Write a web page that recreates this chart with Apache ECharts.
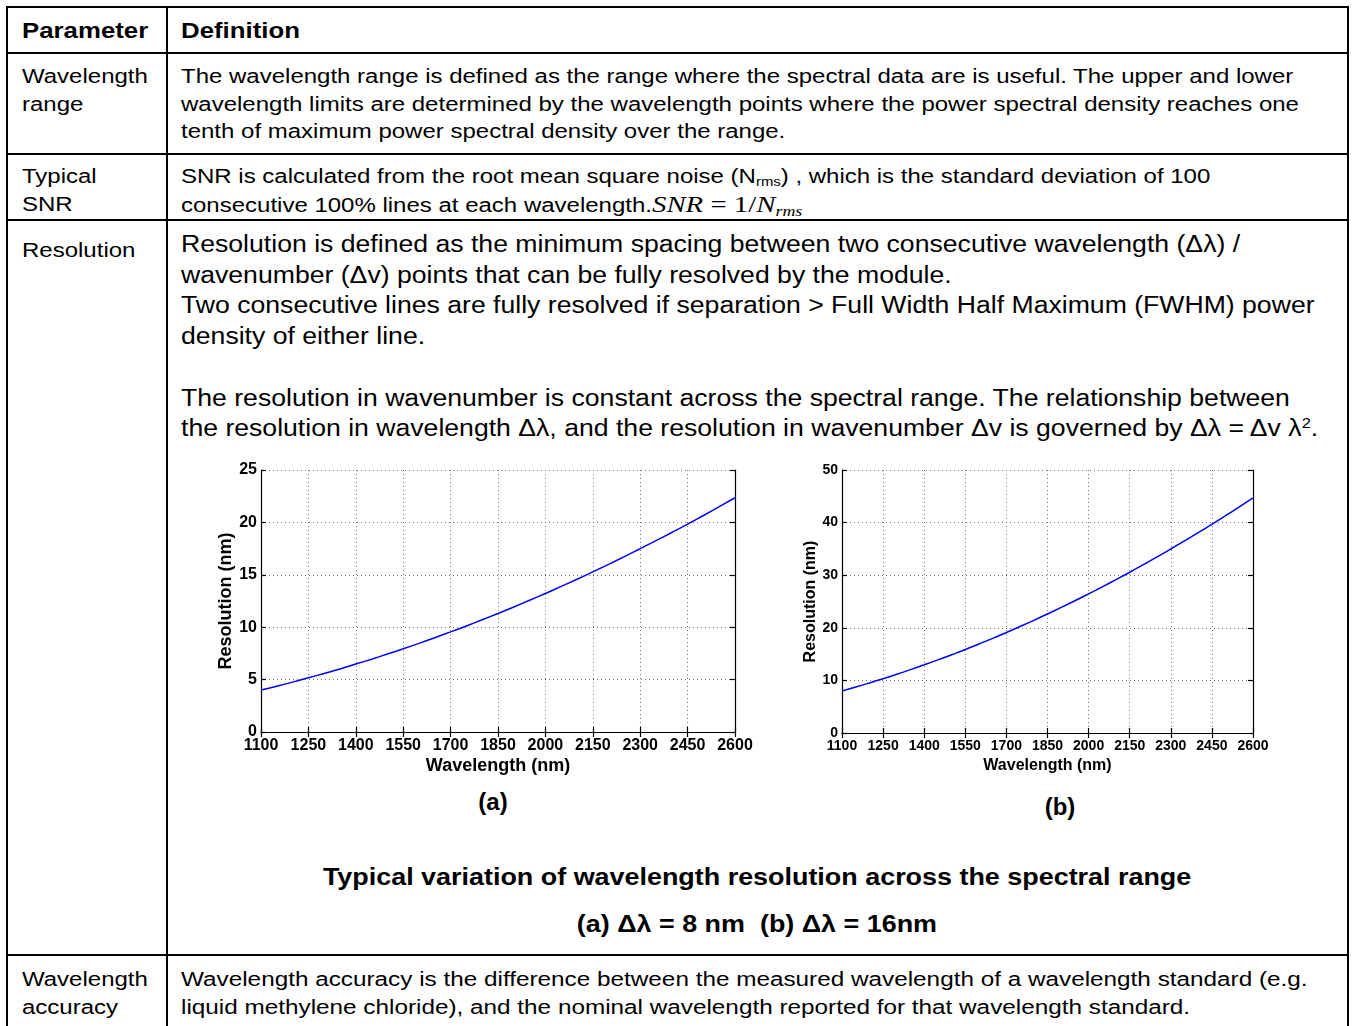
<!DOCTYPE html>
<html>
<head>
<meta charset="utf-8">
<script src="https://cdn.jsdelivr.net/npm/echarts@6/dist/echarts.min.js"></script>
<style>
  html, body { margin: 0; padding: 0; background: #ffffff; }
  body { width: 1352px; height: 1026px; position: relative; overflow: hidden;
         font-family: "Liberation Sans", Arial, sans-serif; color: #000; }
  .ln { position: absolute; background: #000; }
  .t { position: absolute; white-space: nowrap; transform-origin: 0 0; transform: scaleX(1.2); }
  .body20 { font-size: 20px; line-height: 27.5px; }
  .body23 { font-size: 23px; line-height: 30.7px; transform: scaleX(1.157); }
  .acc { transform: scaleX(1.215); }
  .hd { font-size: 21.5px; font-weight: bold; line-height: 28px; }
  .cap { position: absolute; left: 167px; width: 1180px; text-align: center; font-weight: bold; font-size: 23px; white-space: nowrap; }
  .cap span { display: inline-block; transform: scaleX(1.17); }
  sub { font-size: 0.62em; vertical-align: -0.25em; line-height: 0; }
  sup { font-size: 0.62em; vertical-align: 0.55em; line-height: 0; }
  .m { font-family: "Liberation Serif", "DejaVu Serif", serif; font-size: 24px; }
  .chart { position: absolute; }
  .lab { position: absolute; font-weight: bold; font-size: 24px; transform: translateX(-50%); }
</style>
</head>
<body>
<!-- table lines -->
<div class="ln" style="left:6px;top:6px;width:1343px;height:2px"></div>
<div class="ln" style="left:6px;top:52px;width:1343px;height:2px"></div>
<div class="ln" style="left:6px;top:153px;width:1343px;height:2px"></div>
<div class="ln" style="left:6px;top:219px;width:1343px;height:2px"></div>
<div class="ln" style="left:6px;top:954px;width:1343px;height:2px"></div>
<div class="ln" style="left:6px;top:6px;width:2px;height:1020px"></div>
<div class="ln" style="left:166px;top:6px;width:2px;height:1020px"></div>
<div class="ln" style="left:1347px;top:6px;width:2px;height:1020px"></div>

<!-- header -->
<div class="t hd" style="left:22px;top:17px">Parameter</div>
<div class="t hd" style="left:181px;top:17px">Definition</div>

<!-- column 1 -->
<div class="t body20" style="left:22px;top:63px">Wavelength<br>range</div>
<div class="t body20" style="left:22px;top:163px">Typical<br>SNR</div>
<div class="t body20" style="left:22px;top:237px">Resolution</div>
<div class="t body20" style="left:22px;top:966px">Wavelength<br>accuracy</div>

<!-- column 2 -->
<div class="t body20" style="left:181px;top:63px">The wavelength range is defined as the range where the spectral data are is useful. The upper and lower<br>wavelength limits are determined by the wavelength points where the power spectral density reaches one<br>tenth of maximum power spectral density over the range.</div>
<div class="t body20" style="left:181px;top:163px">SNR is calculated from the root mean square noise (N<sub>rms</sub>) , which is the standard deviation of 100<br>consecutive 100% lines at each wavelength.<span class="m"><i>SNR</i> = 1/<i>N<sub>rms</sub></i></span></div>
<div class="t body23" style="left:181px;top:229px">Resolution is defined as the minimum spacing between two consecutive wavelength (Δλ) /<br>wavenumber (Δv) points that can be fully resolved by the module.<br>Two consecutive lines are fully resolved if separation &gt; Full Width Half Maximum (FWHM) power<br>density of either line.<br>&nbsp;<br>The resolution in wavenumber is constant across the spectral range. The relationship between<br>the resolution in wavelength Δλ, and the resolution in wavenumber Δv is governed by Δλ = Δv λ<sup>2</sup>.</div>
<div class="t body20 acc" style="left:181px;top:966px">Wavelength accuracy is the difference between the measured wavelength of a wavelength standard (e.g.<br>liquid methylene chloride), and the nominal wavelength reported for that wavelength standard.</div>

<div id="chartA" class="chart" style="left:190px;top:450px;width:580px;height:330px"></div>
<div id="chartB" class="chart" style="left:780px;top:450px;width:500px;height:330px"></div>

<div class="lab" style="left:493px;top:788px">(a)</div>
<div class="lab" style="left:1060px;top:793px">(b)</div>

<div class="cap" style="top:864px"><span>Typical variation of wavelength resolution across the spectral range</span></div>
<div class="cap" style="top:911px"><span>(a) Δλ = 8 nm&nbsp; (b) Δλ = 16nm</span></div>

<script>
  // wavelength points (nm)
  const wavelength = [1100, 1150, 1200, 1250, 1300, 1350, 1400, 1450, 1500, 1550, 1600,
    1650, 1700, 1750, 1800, 1850, 1900, 1950, 2000, 2050, 2100,
    2150, 2200, 2250, 2300, 2350, 2400, 2450, 2500, 2550, 2600];
  // (a) resolution for 8 nm module
  const resA = [4.00, 4.37, 4.76, 5.17, 5.59, 6.02, 6.48, 6.95, 7.44, 7.94, 8.46,
    9.00, 9.55, 10.12, 10.71, 11.31, 11.93, 12.57, 13.22, 13.89, 14.58,
    15.28, 16.00, 16.74, 17.49, 18.26, 19.04, 19.84, 20.66, 21.50, 22.35];
  // (b) resolution for 16 nm module
  const resB = [8.00, 8.74, 9.52, 10.33, 11.17, 12.05, 12.96, 13.90, 14.88, 15.88, 16.93,
    18.00, 19.11, 20.25, 21.42, 22.63, 23.87, 25.14, 26.45, 27.79, 29.16,
    30.56, 32.00, 33.47, 34.98, 36.52, 38.08, 39.68, 41.32, 42.99, 44.69];

  const font = '"Liberation Sans", Arial, sans-serif';

  function makeChart(id, grid, yMax, yStep, ys, lblSize, nameSize, nameGapY, nameGapX) {
    const chart = echarts.init(document.getElementById(id));
    const axisLine = { show: true, lineStyle: { color: '#000', width: 1.2 } };
    const tick = { show: true, inside: true, length: 5, lineStyle: { color: '#000', width: 1.2 } };
    const split = { show: true, lineStyle: { color: '#777', type: [1, 3], width: 1 } };
    const plain = v => String(v);
    chart.setOption({
      animation: false,
      grid: grid,
      xAxis: [{
        type: 'value', min: 1100, max: 2600, interval: 150,
        axisLine: axisLine, axisTick: tick, splitLine: split,
        axisLabel: { color: '#000', fontWeight: 'bold', fontSize: lblSize, fontFamily: font, margin: 6, formatter: plain },
        name: 'Wavelength (nm)', nameLocation: 'middle', nameGap: nameGapX, nameMoveOverlap: false,
        nameTextStyle: { color: '#000', fontWeight: 'bold', fontSize: nameSize, fontFamily: font }
      }, {
        type: 'value', min: 1100, max: 2600, interval: 150, position: 'top',
        axisLine: axisLine, axisTick: tick, axisLabel: { show: false }, splitLine: { show: false }
      }],
      yAxis: [{
        type: 'value', min: 0, max: yMax, interval: yStep,
        axisLine: axisLine, axisTick: tick, splitLine: split,
        axisLabel: { color: '#000', fontWeight: 'bold', fontSize: lblSize, fontFamily: font, margin: 4, formatter: plain },
        name: 'Resolution (nm)', nameLocation: 'middle', nameGap: nameGapY, nameMoveOverlap: false,
        nameTextStyle: { color: '#000', fontWeight: 'bold', fontSize: nameSize, fontFamily: font }
      }, {
        type: 'value', min: 0, max: yMax, interval: yStep, position: 'right',
        axisLine: axisLine, axisTick: tick, axisLabel: { show: false }, splitLine: { show: false }
      }],
      series: [{
        type: 'line',
        data: wavelength.map((w, i) => [w, ys[i]]),
        showSymbol: false, smooth: true,
        lineStyle: { color: '#0000ff', width: 1.5 }
      }]
    });
  }

  makeChart('chartA', { left: 71, top: 20, width: 474, height: 262 }, 25, 5, resA, 16, 18, 26, 25);
  makeChart('chartB', { left: 62, top: 20, width: 411, height: 263 }, 50, 10, resB, 14, 16, 23, 25);
</script>
</body>
</html>
